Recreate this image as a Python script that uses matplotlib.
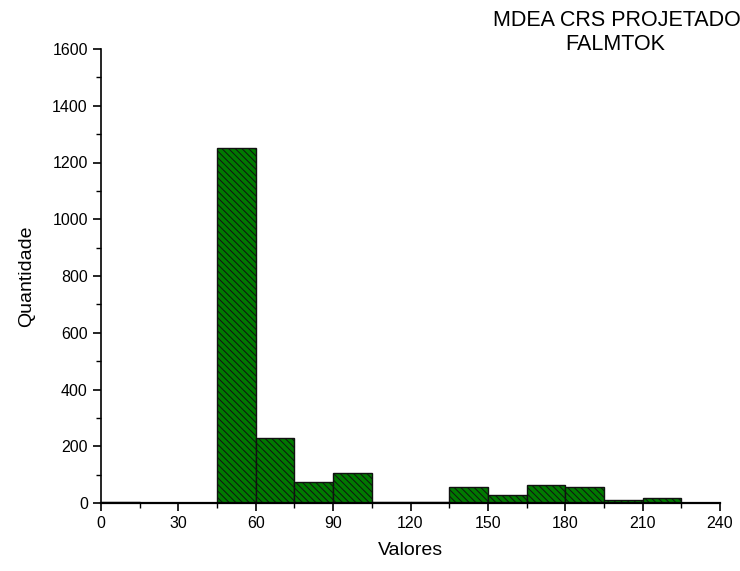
import matplotlib.pyplot as plt
from matplotlib.ticker import MultipleLocator

plt.rcParams['font.family'] = ['Liberation Sans', 'DejaVu Sans']
plt.rcParams['hatch.color'] = '#005000'
plt.rcParams['hatch.linewidth'] = 0.7

# histogram bins (left edges) and counts
bin_left = [0, 15, 30, 45, 60, 75, 90, 105, 120, 135, 150, 165, 180, 195, 210]
counts = [2, 1, 0, 1252, 229, 74, 106, 2, 2, 56, 28, 62, 56, 9, 18]
bin_width = 15

fig = plt.figure(figsize=(7.4, 5.71), dpi=100)
ax = fig.add_axes([101 / 740, 1 - 503 / 571, 619 / 740, 454 / 571])

ax.bar(bin_left, counts, width=bin_width, align='edge', color='#007a00',
       edgecolor='#111111', linewidth=1.0, hatch='\\\\\\\\\\')

ax.set_xlim(0, 240)
ax.set_ylim(0, 1600)
ax.xaxis.set_major_locator(MultipleLocator(30))
ax.xaxis.set_minor_locator(MultipleLocator(15))
ax.yaxis.set_major_locator(MultipleLocator(200))
ax.yaxis.set_minor_locator(MultipleLocator(100))
ax.spines['top'].set_visible(False)
ax.spines['right'].set_visible(False)
ax.spines['left'].set_linewidth(1.2)
ax.spines['bottom'].set_linewidth(1.6)
ax.tick_params(which='major', length=6, width=1.2, labelsize=11.5, direction='out')
ax.tick_params(which='minor', length=3.5, width=1.0, direction='out')

ax.set_xlabel('Valores', fontsize=14, labelpad=8)
ax.set_ylabel('Quantidade', fontsize=14, labelpad=12)

fig.text(617 / 740, 1 - 20 / 571, 'MDEA CRS PROJETADO', ha='center', va='center', fontsize=15.5)
fig.text(615 / 740, 1 - 45 / 571, 'FALMTOK', ha='center', va='center', fontsize=15.5)

fig.savefig('out.png', dpi=100)
